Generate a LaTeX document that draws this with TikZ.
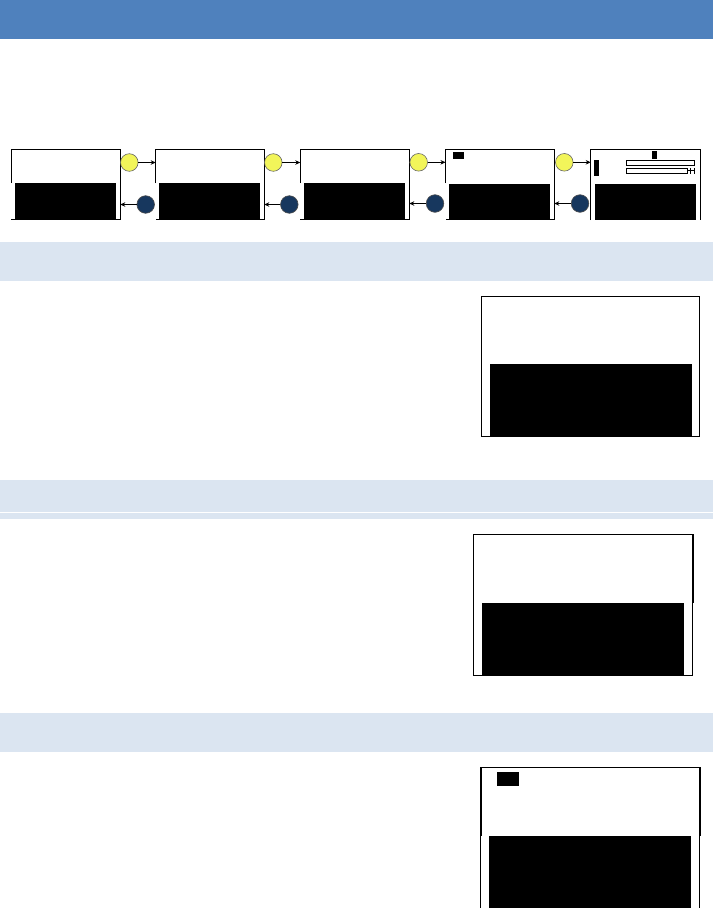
\documentclass[tikz,border=0pt]{standalone}
\usetikzlibrary{arrows.meta}
\definecolor{hdrblue}{RGB}{79,129,189}
\definecolor{bandblue}{RGB}{219,229,241}
\definecolor{nextyellow}{RGB}{242,245,90}
\definecolor{backblue}{RGB}{23,55,94}
\begin{document}
\begin{tikzpicture}[x=1pt,y=-1pt,
  frame/.style={draw=black,line width=1pt},
  blk/.style={fill=black,draw=none},
  yel/.style={circle,fill=nextyellow,draw=black!60,line width=0.6pt,minimum size=17.6pt,inner sep=0pt},
  bck/.style={circle,fill=backblue,draw=black!70,line width=0.6pt,minimum size=17.6pt,inner sep=0pt},
  arr/.style={draw=black,line width=0.8pt,-{Stealth[length=5pt,width=4.5pt]}}]
\useasboundingbox (0,0) rectangle (713,908);
% bands
\fill[hdrblue] (0,0) rectangle (713,39);
\fill[bandblue] (0,242) rectangle (713,281);
\fill[bandblue] (0,480) rectangle (713,511.8);
\fill[bandblue] (0,512.8) rectangle (713,519);
\fill[bandblue] (0,713) rectangle (713,751.7);
% small screens: frames
\foreach \a/\b in {11.3/120.3,155.7/264.3,300.3/409.3,445.5/554.3}{
  \draw[frame] (\a,183) -- (\a,149.3) -- (\b,149.3) -- (\b,219.5) -- (\a,219.5);
}
\draw[frame] (590.7,220) -- (590.7,149.3) -- (700.3,149.3) -- (700.3,220);
% screen nodes (black areas)
\path[blk] (15.3,183) rectangle (116,219.3);
\path[blk] (159.3,183) rectangle (260,219.3);
\path[blk] (304.3,183) rectangle (405,219.3);
\path[blk] (449.3,184) rectangle (550,219.3);
\path[blk] (595,184) rectangle (696,220);
\node[minimum size=0pt,inner sep=0pt] (s1) at (65.8,184) {};
\coordinate (s1r) at (120.3,205);
\coordinate (s2l) at (155.7,162.3);
\coordinate (s2r) at (264.3,205);
\coordinate (s3l) at (300.3,162.3);
\coordinate (s3r) at (409.3,204);
\coordinate (s4l) at (445.5,162);
\coordinate (s4r) at (554.3,204);
\coordinate (s5l) at (590.7,162);
% details in screen 4 and 5
\path[blk] (453,152) rectangle (464,158.7);
\path[blk] (652,151) rectangle (657,158.7);
\path[blk] (594,160) rectangle (599,175.7);
\draw[black,line width=0.8pt] (626,160.3) rectangle (694.7,165.3);
\draw[black,line width=0.8pt] (626,168.3) rectangle (687.7,173.3);
\draw[black,line width=0.8pt] (687.7,170.8) -- (694.5,170.8);
\draw[black,line width=0.8pt] (690,167.8) -- (690,173.8);
\draw[black,line width=0.8pt] (694.2,167.8) -- (694.2,173.8);
% circles
\node[yel] (y1) at (129.3,162.5) {};
\node[yel] (y2) at (273.3,162.5) {};
\node[yel] (y3) at (418.7,162.3) {};
\node[yel] (y4) at (564.3,162.3) {};
\node[bck] (b1) at (145.7,204.5) {};
\node[bck] (b2) at (289.3,204.5) {};
\node[bck] (b3) at (435,203.5) {};
\node[bck] (b4) at (580,203.5) {};
% connectors
\draw[arr] (y1) -- (y1 -| s2l);
\draw[arr] (y2) -- (y2 -| s3l);
\draw[arr] (y3) -- (y3 -| s4l);
\draw[arr] (y4) -- (y4 -| s5l);
\draw[arr] (b1) -- (b1 -| s1r);
\draw[arr] (b2) -- (b2 -| s2r);
\draw[arr] (b3) -- (b3 -| s3r);
\draw[arr] (b4) -- (b4 -| s4r);
% big screen A
\draw[frame] (481.3,296) rectangle (699.3,436.7);
\draw[black,line width=1.6pt] (699.3,296) -- (699.3,364);
\path[blk] (490,364) rectangle (691.7,436);
% big screen B
\draw[frame] (473.3,534.3) rectangle (692.7,675);
\draw[black,line width=1.6pt] (692.7,534.3) -- (692.7,603);
\path[blk] (482,602.7) rectangle (683.7,675);
% big screen C
\draw[frame] (480.7,912) -- (480.7,767) -- (699.7,767) -- (699.7,912);
\draw[black,line width=1.6pt] (480.7,767) -- (480.7,836);
\draw[black,line width=1.6pt] (699.7,767) -- (699.7,836);
\path[blk] (496.7,772) rectangle (519,785.7);
\path[blk] (489,836) rectangle (691,912);
\end{tikzpicture}
\end{document}
